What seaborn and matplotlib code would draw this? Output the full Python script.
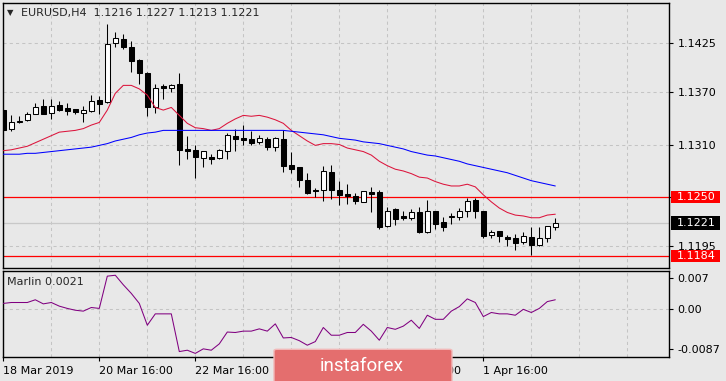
import matplotlib
matplotlib.use("Agg")
import matplotlib.pyplot as plt
import matplotlib.transforms as mtransforms
from matplotlib.patches import Rectangle, FancyBboxPatch
import numpy as np
import seaborn as sns

# EURUSD H4 bars, first bar 18 Mar 2019 16:00
opens = [1.1349, 1.1328, 1.1335, 1.1338, 1.1345, 1.1354, 1.1346, 1.1355, 1.1351, 1.1350,
         1.1346, 1.1348, 1.1360, 1.1358, 1.1425, 1.1430, 1.1420, 1.1406, 1.1391, 1.1352,
         1.1376, 1.1374, 1.1379, 1.1305, 1.1304, 1.1295, 1.1296, 1.1295, 1.1303, 1.1320,
         1.1317, 1.1316, 1.1313, 1.1316, 1.1307, 1.1316, 1.1287, 1.1284, 1.1270, 1.1259,
         1.1258, 1.1279, 1.1258, 1.1254, 1.1252, 1.1245, 1.1256, 1.1256, 1.1218, 1.1237,
         1.1229, 1.1227, 1.1234, 1.1211, 1.1235, 1.1222, 1.1228, 1.1228, 1.1235, 1.1247,
         1.1235, 1.1207, 1.1212, 1.1205, 1.1204, 1.1199, 1.1205, 1.1196, 1.1204, 1.1216]
highs = [1.1350, 1.1343, 1.1342, 1.1347, 1.1357, 1.1362, 1.1362, 1.1359, 1.1357, 1.1350,
         1.1354, 1.1366, 1.1365, 1.1447, 1.1437, 1.1435, 1.1427, 1.1407, 1.1392, 1.1379,
         1.1379, 1.1379, 1.1391, 1.1320, 1.1309, 1.1303, 1.1299, 1.1305, 1.1323, 1.1327,
         1.1332, 1.1325, 1.1321, 1.1318, 1.1319, 1.1326, 1.1301, 1.1284, 1.1278, 1.1261,
         1.1286, 1.1287, 1.1269, 1.1265, 1.1255, 1.1257, 1.1262, 1.1258, 1.1239, 1.1238,
         1.1235, 1.1237, 1.1239, 1.1247, 1.1235, 1.1228, 1.1232, 1.1238, 1.1249, 1.1249,
         1.1235, 1.1213, 1.1212, 1.1207, 1.1209, 1.1211, 1.1217, 1.1217, 1.1218, 1.1227]
lows = [1.1325, 1.1325, 1.1334, 1.1337, 1.1344, 1.1344, 1.1339, 1.1348, 1.1343, 1.1345,
        1.1336, 1.1347, 1.1344, 1.1357, 1.1420, 1.1418, 1.1392, 1.1378, 1.1342, 1.1346,
        1.1361, 1.1370, 1.1287, 1.1294, 1.1272, 1.1284, 1.1288, 1.1294, 1.1294, 1.1303,
        1.1309, 1.1309, 1.1311, 1.1304, 1.1303, 1.1279, 1.1278, 1.1262, 1.1254, 1.1250,
        1.1246, 1.1248, 1.1242, 1.1243, 1.1243, 1.1245, 1.1234, 1.1214, 1.1216, 1.1219,
        1.1224, 1.1224, 1.1210, 1.1210, 1.1214, 1.1212, 1.1220, 1.1225, 1.1228, 1.1227,
        1.1204, 1.1204, 1.1199, 1.1195, 1.1190, 1.1197, 1.1185, 1.1195, 1.1200, 1.1213]
closes = [1.1326, 1.1336, 1.1337, 1.1344, 1.1352, 1.1345, 1.1354, 1.1349, 1.1348, 1.1347,
          1.1349, 1.1359, 1.1356, 1.1424, 1.1431, 1.1420, 1.1405, 1.1391, 1.1353, 1.1374,
          1.1374, 1.1377, 1.1304, 1.1303, 1.1296, 1.1303, 1.1294, 1.1304, 1.1321, 1.1316,
          1.1315, 1.1312, 1.1317, 1.1307, 1.1317, 1.1286, 1.1282, 1.1270, 1.1255, 1.1257,
          1.1280, 1.1259, 1.1253, 1.1252, 1.1246, 1.1257, 1.1254, 1.1217, 1.1235, 1.1226,
          1.1227, 1.1234, 1.1211, 1.1235, 1.1220, 1.1216, 1.1229, 1.1235, 1.1246, 1.1235,
          1.1206, 1.1211, 1.1206, 1.1203, 1.1198, 1.1206, 1.1196, 1.1204, 1.1218, 1.1221]

ma_fast = [1.1303, 1.1304, 1.1306, 1.1308, 1.1312, 1.1316, 1.1320, 1.1324, 1.1325, 1.1326,
           1.1328, 1.1332, 1.1335, 1.1349, 1.1368, 1.1377, 1.1377, 1.1373, 1.1366, 1.1352,
           1.1349, 1.1352, 1.1343, 1.1334, 1.1329, 1.1328, 1.1326, 1.1328, 1.1334, 1.1339,
           1.1343, 1.1342, 1.1343, 1.1341, 1.1338, 1.1334, 1.1326, 1.1320, 1.1314, 1.1309,
           1.1311, 1.1311, 1.1310, 1.1306, 1.1304, 1.1302, 1.1298, 1.1291, 1.1286, 1.1282,
           1.1280, 1.1277, 1.1273, 1.1272, 1.1268, 1.1265, 1.1263, 1.1263, 1.1265, 1.1262,
           1.1253, 1.1245, 1.1238, 1.1233, 1.1230, 1.1229, 1.1227, 1.1227, 1.1230, 1.1231]
ma_slow = [1.1299, 1.1299, 1.1299, 1.1300, 1.1300, 1.1301, 1.1302, 1.1303, 1.1304, 1.1305,
           1.1306, 1.1307, 1.1309, 1.1311, 1.1314, 1.1316, 1.1318, 1.1321, 1.1323, 1.1324,
           1.1326, 1.1326, 1.1326, 1.1326, 1.1326, 1.1326, 1.1326, 1.1326, 1.1326, 1.1326,
           1.1326, 1.1326, 1.1326, 1.1326, 1.1326, 1.1326, 1.1325, 1.1324, 1.1323, 1.1322,
           1.1321, 1.1319, 1.1317, 1.1316, 1.1315, 1.1313, 1.1312, 1.1311, 1.1309, 1.1307,
           1.1305, 1.1302, 1.1300, 1.1298, 1.1297, 1.1295, 1.1293, 1.1291, 1.1288, 1.1286,
           1.1284, 1.1282, 1.1280, 1.1278, 1.1275, 1.1272, 1.1269, 1.1267, 1.1265, 1.1263]

marlin = [0.0013, 0.0015, 0.0015, 0.0015, 0.0021, 0.0012, 0.0015, 0.0007, 0.0002, -0.0002,
          -0.0004, 0.0004, 0.0002, 0.0073, 0.0075, 0.0054, 0.0035, 0.0013, -0.0035, -0.0010,
          -0.0010, -0.0010, -0.0093, -0.0090, -0.0097, -0.0087, -0.0090, -0.0076, -0.0050, -0.0051,
          -0.0048, -0.0048, -0.0043, -0.0048, -0.0032, -0.0063, -0.0062, -0.0069, -0.0079, -0.0071,
          -0.0040, -0.0057, -0.0057, -0.0051, -0.0051, -0.0033, -0.0048, -0.0068, -0.0040, -0.0044,
          -0.0037, -0.0024, -0.0042, -0.0013, -0.0022, -0.0022, -0.0004, 0.0006, 0.0023, 0.0015,
          -0.0016, -0.0007, -0.0010, -0.0010, -0.0013, 0.0000, -0.0007, 0.0002, 0.0017, 0.0021]

price_ticks = [1.1195, 1.1250, 1.1310, 1.1370, 1.1425]
price_labels = ["1.1195", "", "1.1310", "1.1370", "1.1425"]
level_lines = [1.1250, 1.1184]
marlin_ticks = [-0.0087, 0.0, 0.007]
marlin_labels = ["-0.0087", "0.00", "0.007"]
date_pos = [0, 12, 24, 36, 48, 60]
date_labels = ["18 Mar 2019", "20 Mar 16:00", "22 Mar 16:00",
               "26 Mar 16:00", "28 Mar 16:00", "1 Apr 16:00"]

BG = "#e8e8e8"
GRID = "#c4c4c4"
sns.set_theme(style="ticks", rc={"axes.facecolor": BG, "figure.facecolor": BG,
                                 "axes.edgecolor": "black", "axes.linewidth": 1.0})
plt.rcParams["font.family"] = ["DejaVu Sans"]

W, H = 726, 381
fig = plt.figure(figsize=(W / 100, H / 100), dpi=100)


def box(x0, y0, x1, y1):
    return [x0 / W, 1 - y1 / H, (x1 - x0) / W, (y1 - y0) / H]


ax = fig.add_axes(box(2.7, 2.7, 669.3, 268.3))
ax2 = fig.add_axes(box(2.7, 270.7, 669.3, 357.3))

idx = np.arange(len(opens))
o, h, l, c = (np.array(v) for v in (opens, highs, lows, closes))
up = c >= o

# candles
ax.vlines(idx, l, h, color="black", lw=0.75, zorder=3)
ax.bar(idx, np.abs(c - o), bottom=np.minimum(o, c), width=0.6,
       color=np.where(up, "white", "black"), edgecolor="black", linewidth=0.75, zorder=4)

sns.lineplot(x=idx, y=ma_fast, ax=ax, color="#dc143c", linewidth=0.75, zorder=5)
sns.lineplot(x=idx, y=ma_slow, ax=ax, color="#0000ff", linewidth=0.75, zorder=5)

for lv in level_lines:
    ax.axhline(lv, color="#ff0000", lw=0.9, zorder=2)
ax.axhline(closes[-1], color="#c8c8c8", lw=0.9, zorder=1)

ax.set_xlim(-0.075, 83.25)
ax.set_ylim(1.11697, 1.14707)
ax2.set_xlim(-0.075, 83.25)
ax2.set_ylim(-0.01056, 0.0085)

for a in (ax, ax2):
    for gx in range(6, 84, 6):
        a.axvline(gx, color=GRID, lw=0.75, ls=(0, (3, 3)), zorder=0)
    a.yaxis.tick_right()
    a.tick_params(axis="y", length=3, width=0.8, pad=3, labelsize=8, colors="black")
    for s in a.spines.values():
        s.set_color("black")
        s.set_linewidth(1.0)

ax.set_yticks(price_ticks)
ax.set_yticklabels(price_labels)
ax.grid(axis="y", color=GRID, lw=0.75, ls=(0, (3, 3)))
ax.set_axisbelow(True)
ax.set_xticks([])
ax.set_xlabel("")
ax.set_ylabel("")

# price labels on the right
trans = mtransforms.blended_transform_factory(ax.transAxes, ax.transData)
ppx = (1.14707 - 1.11697) / 265.6
for val, fc, hp in [(level_lines[0], "#ff0000", 6), (closes[-1], "black", 7), (level_lines[1], "#ff0000", 6)]:
    ax.add_patch(Rectangle((1.0024, val - hp * ppx), 0.0735, 2 * hp * ppx, transform=trans,
                           facecolor=fc, edgecolor="none", clip_on=False, zorder=10))
    ax.text(1.0111, val, f"{val:.4f}", transform=trans, color="white", fontsize=8,
            ha="left", va="center", clip_on=False, zorder=11)

ax.text(0.0066, 0.962, "\u25bc", transform=ax.transAxes, fontsize=6, ha="left", va="center")
ax.text(0.0275, 0.961,
        f"EURUSD,H4  {opens[-1]:.4f} {highs[-1]:.4f} {lows[-1]:.4f} {closes[-1]:.4f}",
        transform=ax.transAxes, fontsize=8, ha="left", va="center")

# Marlin indicator
sns.lineplot(x=idx, y=marlin, ax=ax2, color="#800080", linewidth=0.75, zorder=5)
ax2.axhline(0, color=GRID, lw=0.75, ls=(0, (3, 3)), zorder=0)
ax2.set_yticks(marlin_ticks)
ax2.set_yticklabels(marlin_labels)
ax2.set_xticks(date_pos)
ax2.set_xticklabels(date_labels, ha="left")
ax2.tick_params(axis="x", length=3, width=0.8, pad=3, labelsize=8, colors="black")
ax2.set_xlabel("")
ax2.set_ylabel("")
ax2.text(0.007, 0.873, f"Marlin {marlin[-1]:.4f}", transform=ax2.transAxes,
         fontsize=8, ha="left", va="center")

# watermark
fig.add_artist(FancyBboxPatch((274 / W, -0.02), 178 / W, (381 - 349.3) / H + 0.02,
                              boxstyle="round,pad=0,rounding_size=0.004",
                              transform=fig.transFigure, facecolor="#e46e6e",
                              edgecolor="#f2b8b8", lw=1.0, zorder=20))
fig.text(362 / W, 1 - 366 / H, "instaforex", color="white", fontsize=13.5,
         family=["Roboto", "DejaVu Sans"], ha="center", va="center", zorder=21)

fig.savefig("out.png", dpi=100, facecolor=BG)
